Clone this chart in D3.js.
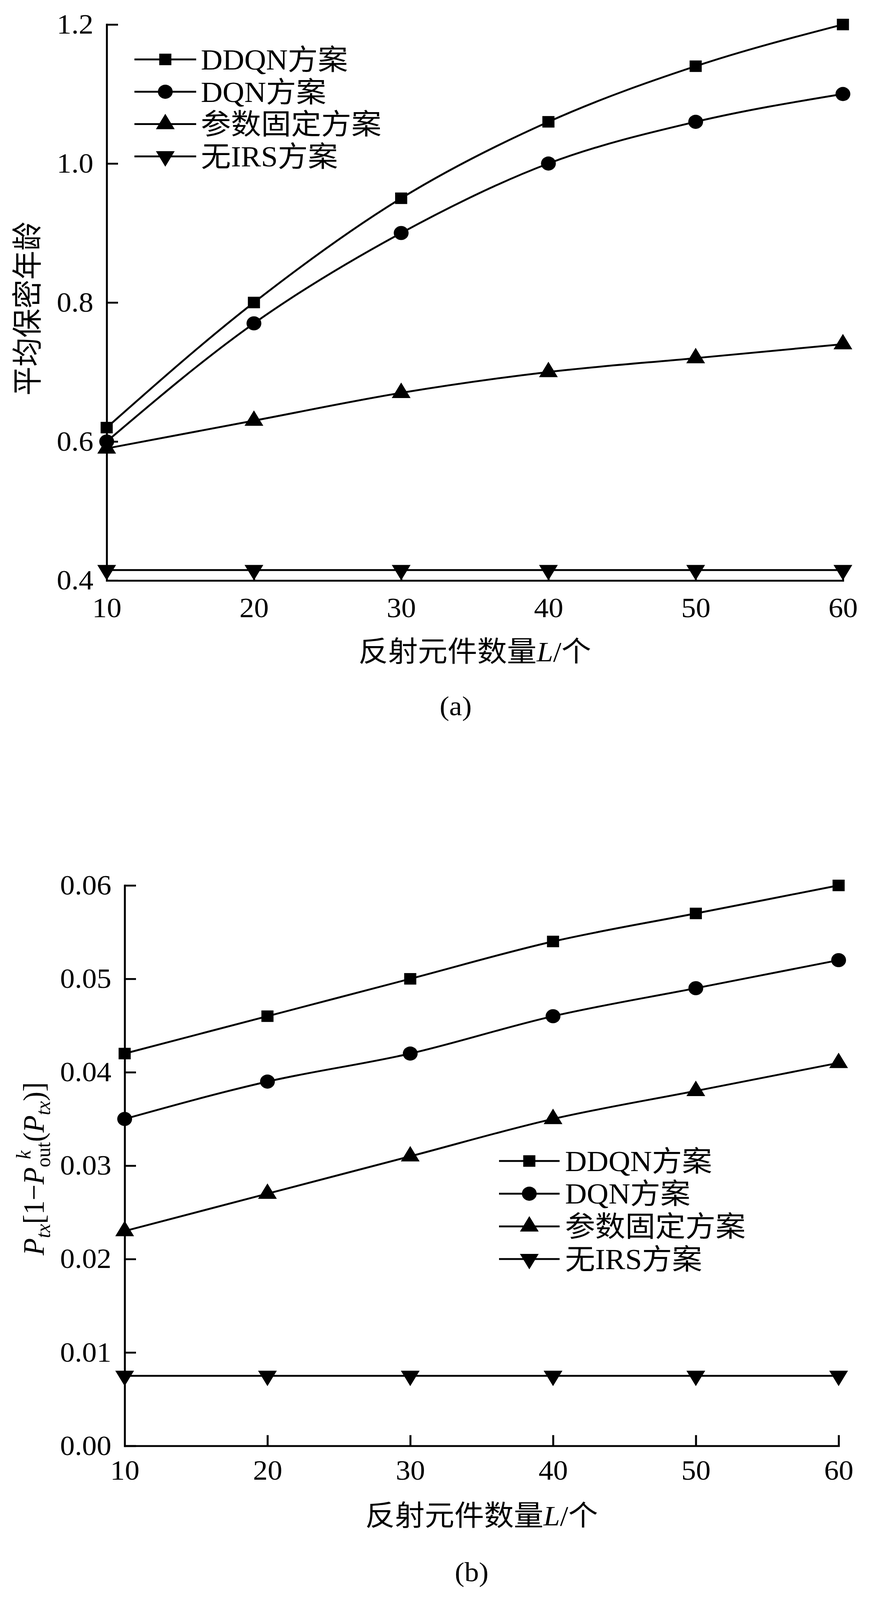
<!DOCTYPE html>
<html>
<head>
<meta charset="utf-8">
<script src="https://cdn.jsdelivr.net/npm/d3@7"></script>
<style>
  html, body { margin: 0; padding: 0; background: #fff; overflow: hidden; }
  svg { display: block; }
</style>
</head>
<body>
<script>
// ---------- data ----------
const xValues = [10, 20, 30, 40, 50, 60];
const xTicks = [10, 20, 30, 40, 50, 60];
const seriesNames = ["DDQN方案", "DQN方案", "参数固定方案", "无IRS方案"];

// panel (a): 平均保密年龄
const aDDQN  = [0.62, 0.80, 0.95, 1.06, 1.14, 1.20];
const aDQN   = [0.60, 0.77, 0.90, 1.00, 1.06, 1.10];
const aFixed = [0.59, 0.63, 0.67, 0.70, 0.72, 0.74];
const aNoIRS = [0.415, 0.415, 0.415, 0.415, 0.415, 0.415];
const aYTicks = [0.4, 0.6, 0.8, 1.0, 1.2];

// panel (b): P_tx[1-P_out^k(P_tx)]
const bDDQN  = [0.042, 0.046, 0.050, 0.054, 0.057, 0.060];
const bDQN   = [0.035, 0.039, 0.042, 0.046, 0.049, 0.052];
const bFixed = [0.023, 0.027, 0.031, 0.035, 0.038, 0.041];
const bNoIRS = [0.0075, 0.0075, 0.0075, 0.0075, 0.0075, 0.0075];
const bYTicks = [0.00, 0.01, 0.02, 0.03, 0.04, 0.05, 0.06];

// ---------- drawing ----------
const W = 2234, H = 4308;
const vw = window.innerWidth || W, vh = window.innerHeight || H;
const svg = d3.select("body").append("svg")
  .attr("width", vw).attr("height", vh)
  .attr("viewBox", `0 0 ${W} ${H}`)
  .attr("preserveAspectRatio", "none");
svg.append("rect").attr("width", W).attr("height", H).attr("fill", "#fff");

const LATIN = "'Liberation Serif', 'Times New Roman', serif";
const MIXED = "'Liberation Serif', 'Noto Sans CJK SC', serif";
const SW = 5;

const markerTypes = [
  { type: d3.symbolSquare,   size: 31 * 31, rot: 0 },
  { type: d3.symbolCircle,   size: Math.PI * 19 * 19, rot: 0 },
  { type: d3.symbolTriangle, size: 1000, rot: 0 },
  { type: d3.symbolTriangle, size: 1000, rot: 180 }
];

function drawPanel(cfg) {
  const g = svg.append("g");
  const x = d3.scaleLinear().domain([10, 60]).range(cfg.xRange);
  const y = d3.scaleLinear().domain(cfg.yDomain).range(cfg.yRange);

  // axes
  const xAxis = d3.axisBottom(x).tickValues(xTicks).tickSize(-29).tickSizeOuter(0)
    .tickPadding(cfg.xPad).tickFormat(d3.format("d"));
  const yAxis = d3.axisLeft(y).tickValues(cfg.yTicks).tickSize(-29).tickSizeOuter(0)
    .tickPadding(34).tickFormat(d3.format(cfg.yFmt));

  const gx = g.append("g").attr("transform", `translate(0,${cfg.yRange[0]})`).call(xAxis);
  const gy = g.append("g").attr("transform", `translate(${cfg.xRange[0]},0)`).call(yAxis);
  [gx, gy].forEach(a => {
    a.select(".domain").attr("stroke", "#000").attr("stroke-width", SW).attr("stroke-linecap", "square");
    a.selectAll(".tick line").attr("stroke", "#000").attr("stroke-width", SW);
    a.selectAll(".tick text").attr("fill", "#000")
      .style("font-family", LATIN).style("font-size", "75px");
  });

  // lines
  const line = d3.line().x((d, i) => x(xValues[i])).y(d => y(d)).curve(d3.curveMonotoneX);
  cfg.series.forEach(s => {
    g.append("path").datum(s).attr("d", line)
      .attr("fill", "none").attr("stroke", "#000").attr("stroke-width", SW)
      .attr("stroke-linejoin", "round");
  });
  // markers
  cfg.series.forEach((s, k) => {
    const m = markerTypes[k];
    const sym = d3.symbol().type(m.type).size(m.size);
    g.selectAll(null).data(s).enter().append("path")
      .attr("d", sym)
      .attr("transform", (d, i) => `translate(${x(xValues[i])},${y(d)}) rotate(${m.rot})`)
      .attr("fill", "#000");
  });

  // legend
  const L = cfg.legend;
  seriesNames.forEach((name, k) => {
    const ry = L.y0 + k * L.dy;
    g.append("line").attr("x1", L.x1).attr("x2", L.x2).attr("y1", ry).attr("y2", ry)
      .attr("stroke", "#000").attr("stroke-width", SW);
    const m = markerTypes[k];
    g.append("path").attr("d", d3.symbol().type(m.type).size(m.size))
      .attr("transform", `translate(${(L.x1 + L.x2) / 2},${ry}) rotate(${m.rot})`)
      .attr("fill", "#000");
    g.append("text").attr("x", L.tx).attr("y", ry + 27)
      .style("font-family", MIXED).style("font-size", "77px").attr("fill", "#000")
      .text(name);
  });

  // x label
  const xl = g.append("text")
    .attr("x", (cfg.xRange[0] + cfg.xRange[1]) / 2).attr("y", cfg.xLabelY)
    .attr("text-anchor", "middle")
    .style("font-family", MIXED).style("font-size", "76px").attr("fill", "#000");
  xl.append("tspan").text("反射元件数量");
  xl.append("tspan").style("font-style", "italic").text("L");
  xl.append("tspan").text("/个");

  // panel tag
  g.append("text").attr("x", cfg.tagX).attr("y", cfg.tagY).attr("text-anchor", "middle")
    .style("font-family", LATIN).style("font-size", "74px").attr("fill", "#000")
    .text(cfg.tag);

  return g;
}

const gA = drawPanel({
  xRange: [273, 2157], yRange: [1563, 66], yDomain: [0.4, 1.2],
  yTicks: aYTicks, yFmt: ".1f", xPad: 46,
  series: [aDDQN, aDQN, aFixed, aNoIRS],
  legend: { x1: 344, x2: 502, tx: 514, y0: 160, dy: 87 },
  xLabelY: 1781, tag: "(a)", tagX: 1166, tagY: 1926
});
// y label (a)
gA.append("text")
  .attr("transform", "translate(98,831) rotate(-90)")
  .attr("text-anchor", "middle")
  .style("font-family", "'Noto Sans CJK SC', sans-serif").style("font-size", "78px")
  .attr("fill", "#000")
  .text("平均保密年龄");

const gB = drawPanel({
  xRange: [319, 2146], yRange: [3893, 2384], yDomain: [0, 0.06],
  yTicks: bYTicks, yFmt: ".2f", xPad: 38,
  series: [bDDQN, bDQN, bFixed, bNoIRS],
  legend: { x1: 1277, x2: 1432, tx: 1446, y0: 3126, dy: 88 },
  xLabelY: 4107, tag: "(b)", tagX: 1207, tagY: 4258
});
// y label (b): P_tx[1−P^k_out(P_tx)]
const yl = gB.append("text")
  .attr("transform", "translate(112,3147) rotate(-90)")
  .attr("text-anchor", "middle")
  .style("font-family", LATIN).style("font-size", "76px").attr("fill", "#000");
yl.append("tspan").style("font-style", "italic").text("P");
yl.append("tspan").style("font-style", "italic").style("font-size", "53px").attr("dy", 16).text("tx");
yl.append("tspan").attr("dy", -16).text("[1−");
yl.append("tspan").style("font-style", "italic").text("P");
yl.append("tspan").style("font-size", "53px").attr("dy", 16).text("out");
yl.append("tspan").style("font-style", "italic").style("font-size", "53px").attr("dx", -46).attr("dy", -50).text("k");
yl.append("tspan").attr("dx", 23).attr("dy", 34).text("(");
yl.append("tspan").style("font-style", "italic").text("P");
yl.append("tspan").style("font-style", "italic").style("font-size", "53px").attr("dy", 16).text("tx");
yl.append("tspan").attr("dy", -16).text(")]");
</script>
</body>
</html>
